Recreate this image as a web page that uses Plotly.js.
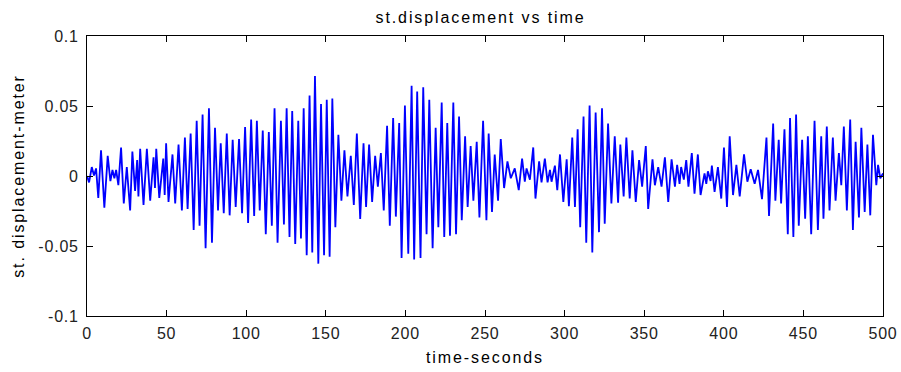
<!DOCTYPE html>
<html>
<head>
<meta charset="utf-8">
<script src="https://cdn.plot.ly/plotly-3.0.1.min.js"></script>
<style>
html,body{margin:0;padding:0;background:#fff;}
#chart{width:901px;height:372px;}
#chart .gtitle, #chart .xtitle, #chart .ytitle { letter-spacing: 1.9px; }
#chart .xtick text, #chart .ytick text { letter-spacing: 0.8px; }
</style>
</head>
<body>
<div id="chart"></div>
<script>
// time in seconds (successive peaks and troughs)
const timeSec = [
  0,1.3,3.0,4.4,5.7,7.1,8.8,10.9,13.0,14.7,16.0,17.2,18.3,19.7,21.4,23.1,25.0,27.1,28.5,30.2,31.5,32.3,33.4,35.5,37.6,39.7,41.8,42.7,43.5,45.4,47.9,48.8,49.7,51.2,53.7,55.4,57.5,59.6,
  61.5,63.2,65.1,67.0,68.9,70.7,72.6,74.5,76.6,78.5,80.4,82.3,84.0,85.9,87.8,89.6,91.5,93.4,95.5,97.4,99.3,101.2,103.1,105.0,106.7,108.5,110.4,112.3,114.2,116.1,117.8,119.7,121.8,
  123.7,125.4,127.2,128.9,130.8,132.7,134.4,136.1,138.0,139.8,141.5,143.2,145.3,147.0,148.9,150.6,152.4,154.1,156.0,157.9,159.8,161.7,163.6,165.7,167.6,169.5,171.6,173.7,175.3,177.2,179.1,181.0,182.7,184.6,
  186.4,188.5,190.2,192.3,194.0,196.1,197.6,199.7,201.8,203.9,205.5,207.4,209.5,211.2,213.3,215.0,217.1,219.0,220.7,222.8,224.4,226.3,228.0,230.1,231.8,233.7,235.4,237.5,239.1,241.0,242.7,244.8,246.5,
  248.8,250.9,252.3,254.4,256.1,258.2,259.9,262.0,264.1,266.2,268.7,271.2,273.3,275.0,276.1,278.2,280.3,281.7,284.0,285.5,287.6,289.3,290.8,291.8,293.9,295.4,297.1,299.2,301.3,302.7,304.8,306.5,308.2,
  309.8,311.9,313.6,315.7,317.4,319.5,321.6,323.5,325.2,327.3,329.4,331.5,333.6,335.0,337.1,338.8,340.9,342.6,344.7,346.8,348.7,351.0,352.5,355.2,356.7,358.8,360.9,363.0,365.1,367.2,369.3,
  370.7,372.2,373.2,374.9,376.4,377.8,379.9,381.6,383.7,385.4,387.9,389.0,390.0,391.7,392.5,394.2,396.3,398.4,400.1,402.0,403.7,405.8,407.9,410.0,412.7,414.8,416.9,419.4,421.5,424.0,426.8,428.4,431.0,
  432.4,434.5,436.0,438.1,440.2,441.6,443.7,445.4,447.1,449.2,451.1,452.8,454.9,457.0,459.1,461.2,462.6,464.7,466.4,468.5,470.2,472.3,473.8,475.4,477.3,479.4,481.1,482.8,484.9,486.4,488.5,490.2,492.0,493.7,495.8,496.9,498.3,500
];
// displacement in meters
const displacement = [
  0,-0.0046,0.0064,0.0004,0.0054,-0.0156,0.0184,-0.0226,0.0144,-0.0036,0.0044,-0.0016,0.0044,-0.0066,0.0204,-0.0196,0.0064,-0.0246,0.0174,-0.0106,0.0114,-0.0146,0.0194,-0.0206,0.0194,-0.0176,0.0134,-0.0086,0.0194,-0.0156,0.0124,-0.0136,0.0234,-0.0186,0.0154,-0.0196,0.0224,-0.0246,
  0.0274,-0.0236,0.0304,-0.0386,0.0394,-0.0356,0.0439,-0.0516,0.0484,-0.0476,0.0344,-0.0246,0.0234,-0.0266,0.0304,-0.0281,0.0259,-0.0221,0.0264,-0.0266,0.0350,-0.0336,0.0404,-0.0286,0.0394,-0.0246,0.0324,-0.0416,0.0314,-0.0356,0.0484,-0.0476,0.0394,
  -0.0346,0.0484,-0.0436,0.0464,-0.0486,0.0394,-0.0446,0.0484,-0.0566,0.0574,-0.0546,0.0714,-0.0626,0.0514,-0.0566,0.0544,-0.0576,0.0554,-0.0366,0.0294,-0.0176,0.0184,-0.0146,0.0144,-0.0206,0.0304,-0.0306,0.0234,-0.0221,0.0224,-0.0186,0.0144,-0.0076,0.0164,
  -0.0246,0.0359,-0.0356,0.0414,-0.0290,0.0379,-0.0586,0.0504,-0.0556,0.0644,-0.0596,0.0604,-0.0586,0.0634,-0.0416,0.0544,-0.0516,0.0344,-0.0366,0.0524,-0.0436,0.0379,-0.0426,0.0524,-0.0416,0.0424,-0.0316,0.0284,-0.0221,0.0214,-0.0176,0.0244,-0.0296,
  0.0394,-0.0316,0.0304,-0.0256,0.0154,-0.0176,0.0264,-0.0086,0.0104,-0.0016,0.0054,-0.0101,0.0124,-0.0041,0.0054,-0.0026,0.0204,-0.0161,0.0104,-0.0046,0.0124,-0.0046,0.0044,-0.0041,0.0074,-0.0101,0.0154,-0.0186,0.0119,-0.0216,0.0274,-0.0221,0.0334,
  -0.0366,0.0424,-0.0476,0.0504,-0.0546,0.0454,-0.0401,0.0484,-0.0341,0.0374,-0.0196,0.0284,-0.0191,0.0224,-0.0146,0.0274,-0.0161,0.0184,-0.0186,0.0114,-0.0076,0.0214,-0.0236,0.0119,-0.0066,0.0064,-0.0076,0.0134,-0.0186,0.0119,-0.0076,
  0.0079,-0.0056,0.0064,-0.0026,0.0114,-0.0076,0.0164,-0.0126,0.0154,-0.0136,0.0019,-0.0056,0.0034,-0.0036,0.0074,-0.0113,0.0064,-0.0161,0.0204,-0.0221,0.0284,-0.0136,0.0079,-0.0146,0.0154,-0.0041,0.0049,-0.0056,0.0044,-0.0166,0.0274,-0.0286,0.0374,
  -0.0176,0.0259,-0.0196,0.0334,-0.0416,0.0414,-0.0436,0.0439,-0.0356,0.0259,-0.0306,0.0284,-0.0416,0.0394,-0.0386,0.0284,-0.0306,0.0354,-0.0246,0.0274,-0.0176,0.0164,-0.0066,0.0354,-0.0246,0.0404,-0.0386,0.0244,-0.0296,0.0344,-0.0256,0.0224,-0.0281,0.0294,-0.0066,0.0079,-0.0016,0.0019
];
const xTicks = [0,50,100,150,200,250,300,350,400,450,500];
const yTicks = [-0.1,-0.05,0,0.05,0.1];
const yTickLabels = ['-0.1','-0.05','0','0.05','0.1'];

const FONT = 'Arial, "Liberation Sans", sans-serif';
const trace = {
  x: timeSec, y: displacement, type: 'scatter', mode: 'lines',
  line: {color: '#0000ff', width: 1.8}, hoverinfo: 'skip'
};
const axisCommon = {
  showgrid: false, zeroline: false, showline: true, linecolor: '#000', linewidth: 1,
  mirror: 'allticks', ticks: 'inside', ticklen: 6, tickcolor: '#000', tickwidth: 1,
  tickfont: {family: FONT, size: 16, color: '#222'}
};
const layout = {
  width: 901, height: 372,
  paper_bgcolor: '#fff', plot_bgcolor: '#fff',
  margin: {l: 87, r: 18, t: 36, b: 56},
  showlegend: false,
  title: {text: 'st.displacement vs time', font: {family: FONT, size: 16, color: '#000'},
          x: 0.5333, xanchor: 'center', y: 0.954, yanchor: 'middle'},
  xaxis: Object.assign({}, axisCommon, {
    range: [0, 500], tickmode: 'array', tickvals: xTicks, ticktext: xTicks.map(String),
    ticklabelstandoff: 3,
    title: {text: 'time-seconds', font: {family: FONT, size: 16, color: '#000'}, standoff: 10}
  }),
  yaxis: Object.assign({}, axisCommon, {
    range: [-0.1, 0.1], tickmode: 'array', tickvals: yTicks, ticktext: yTickLabels,
    ticklabelstandoff: 4,
    title: {text: 'st. displacement-meter', font: {family: FONT, size: 16, color: '#000'}, standoff: 13}
  })
};
Plotly.newPlot('chart', [trace], layout, {staticPlot: true, displayModeBar: false});
</script>
</body>
</html>
